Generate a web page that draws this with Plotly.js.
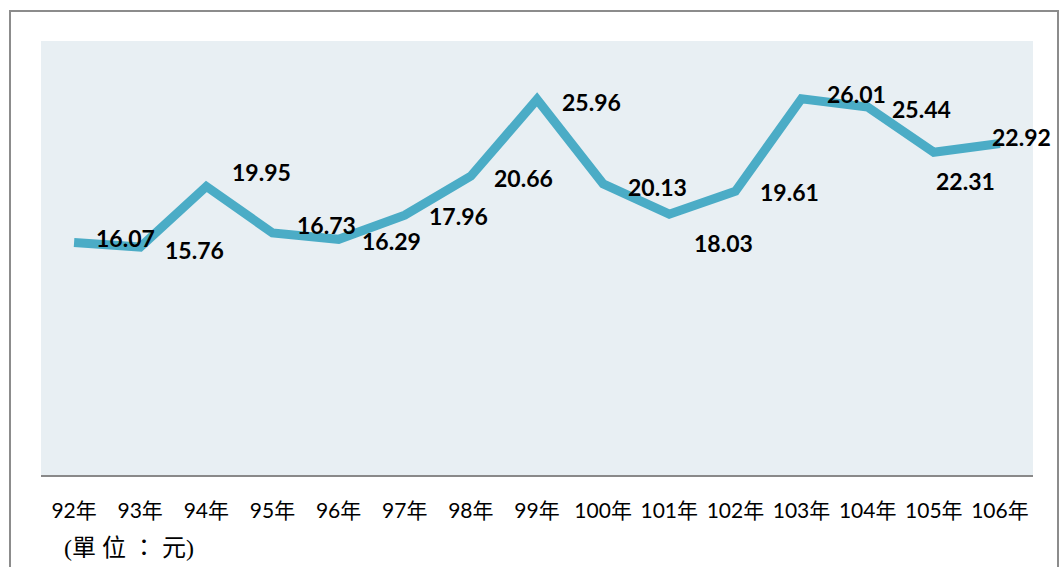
<!DOCTYPE html>
<html>
<head>
<meta charset="utf-8">
<script src="https://cdn.plot.ly/plotly-3.0.1.min.js"></script>
<style>
  html, body { margin: 0; padding: 0; background: #ffffff; }
  #wrap { position: relative; width: 1061px; height: 567px; overflow: hidden; }
  #chart { position: absolute; left: 0; top: 0; width: 1061px; height: 567px; }
  #frame { position: absolute; left: 9px; top: 10px; width: 1046px; height: 600px;
           border: 2px solid #8c8c8c; pointer-events: none; }
</style>
</head>
<body>
<div id="wrap">
  <div id="chart"></div>
  <div id="frame"></div>
</div>
<script>
// ---- data ----
const years = ["92年","93年","94年","95年","96年","97年","98年","99年","100年","101年","102年","103年","104年","105年","106年"];
const values = [16.07, 15.76, 19.95, 16.73, 16.29, 17.96, 20.66, 25.96, 20.13, 18.03, 19.61, 26.01, 25.44, 22.31, 22.92];
const unitNote = "(單 位 ： 元)";

// ---- label placement (style only, pixel shifts) ----
const labelDX = [51, 54, 55, 54, 53, 54, 53, 54, 54, 54, 54, 55, 54, 32, 22];
const labelDY = [-5, 3, -14, -8, 2, 1, 2, 3, 3, 29, 1, -5, 2, 29, -6];

const annotations = values.map((v, i) => ({
  x: years[i], y: v, xref: "x", yref: "y",
  text: v.toFixed(2), showarrow: false,
  xshift: labelDX[i], yshift: -labelDY[i],
  font: { family: "Lato, 'Open Sans', sans-serif", size: 23, color: "#000000", weight: 700 }
}));
annotations.push({
  xref: "paper", yref: "paper", x: 0.021, y: -0.168, xanchor: "left", yanchor: "middle",
  text: unitNote, showarrow: false,
  font: { family: "'Liberation Serif', 'Noto Sans CJK TC', serif", size: 24, color: "#000000" }
});

const trace = {
  x: years, y: values, type: "scatter", mode: "lines",
  line: { color: "#4BACC6", width: 9 },
  hoverinfo: "skip"
};

const layout = {
  width: 1061, height: 567,
  margin: { l: 41, r: 28, t: 41, b: 92 },
  paper_bgcolor: "#ffffff",
  plot_bgcolor: "#E8EFF3",
  showlegend: false,
  xaxis: {
    type: "category", range: [-0.5, 14.5],
    showgrid: false, zeroline: false,
    showline: true, linecolor: "#898989", linewidth: 2,
    ticks: "", ticklabelstandoff: 16,
    tickfont: { family: "Lato, 'Noto Sans CJK TC', sans-serif", size: 21, color: "#000000" }
  },
  yaxis: {
    range: [0, 30], showgrid: false, zeroline: false, showline: false,
    showticklabels: false, ticks: ""
  },
  annotations: annotations
};

Plotly.newPlot("chart", [trace], layout, { staticPlot: true, displayModeBar: false });
</script>
</body>
</html>
